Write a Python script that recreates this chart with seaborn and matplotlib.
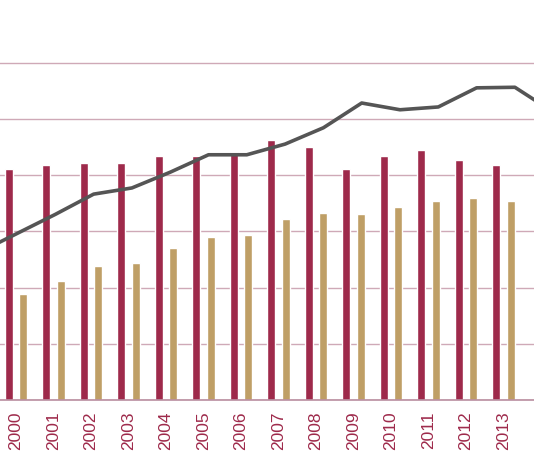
import pandas as pd
import matplotlib
matplotlib.use("Agg")
import matplotlib.pyplot as plt
import seaborn as sns

years = [str(y) for y in range(2000, 2014)]
crimson_vals = [4.10, 4.17, 4.22, 4.21, 4.34, 4.33, 4.41, 4.62, 4.50, 4.10, 4.34, 4.44, 4.27, 4.18]
gold_vals = [1.88, 2.12, 2.38, 2.44, 2.71, 2.89, 2.94, 3.22, 3.33, 3.30, 3.43, 3.53, 3.60, 3.54]
# line runs a bit past both picture edges
line_years = list(range(1999, 2015))
line_vals = [2.62, 2.96, 3.30, 3.66, 3.77, 4.05, 4.36, 4.36, 4.55, 4.84, 5.28, 5.16, 5.21, 5.55, 5.56, 5.12]

crimson = "#9e2a4b"
gold = "#bf9f66"
grid_col = "#cfa9b7"

df = pd.DataFrame({
    "year": years * 2,
    "value": crimson_vals + gold_vals,
    "series": ["A"] * len(years) + ["B"] * len(years),
})

sns.set_style("white")
plt.rcParams["font.family"] = ["Liberation Sans", "DejaVu Sans"]

fig = plt.figure(figsize=(5.34, 4.62), dpi=100)
# plot area runs past both edges of the picture (the chart is cropped)
ax = fig.add_axes([-2.75 / 534, 62 / 462, 562.5 / 534, 365.6 / 462])

sns.barplot(data=df, x="year", y="value", hue="series", palette=[crimson, gold],
            width=0.75, gap=0.43, saturation=1, legend=False, ax=ax)
ax.set_xlim(-0.5, 14.5)
ax.set_ylim(0, 6.5)
ax.set_yticks(range(0, 7))
ax.yaxis.grid(True, color=grid_col, linewidth=1.0)
ax.set_axisbelow(True)
ax.set_yticklabels([])
ax.tick_params(axis="y", length=0)
ax.tick_params(axis="x", length=0, pad=8, labelrotation=90, labelsize=12.5, labelcolor=crimson)
ax.set_xlabel("")
ax.set_ylabel("")
for side in ["top", "left", "right"]:
    ax.spines[side].set_visible(False)
ax.spines["bottom"].set_color("#b98d9f")
ax.spines["bottom"].set_linewidth(1.2)

# line series sits on its own x scale
ax2 = ax.twiny()
sns.lineplot(x=[y - 2000 for y in line_years], y=line_vals, color="#555555",
             linewidth=2.6, ax=ax2)
ax2.set_xlim(-0.5157, 14.171)
ax2.set_ylim(0, 6.5)
ax2.axis("off")

fig.savefig("out.png", dpi=100)
